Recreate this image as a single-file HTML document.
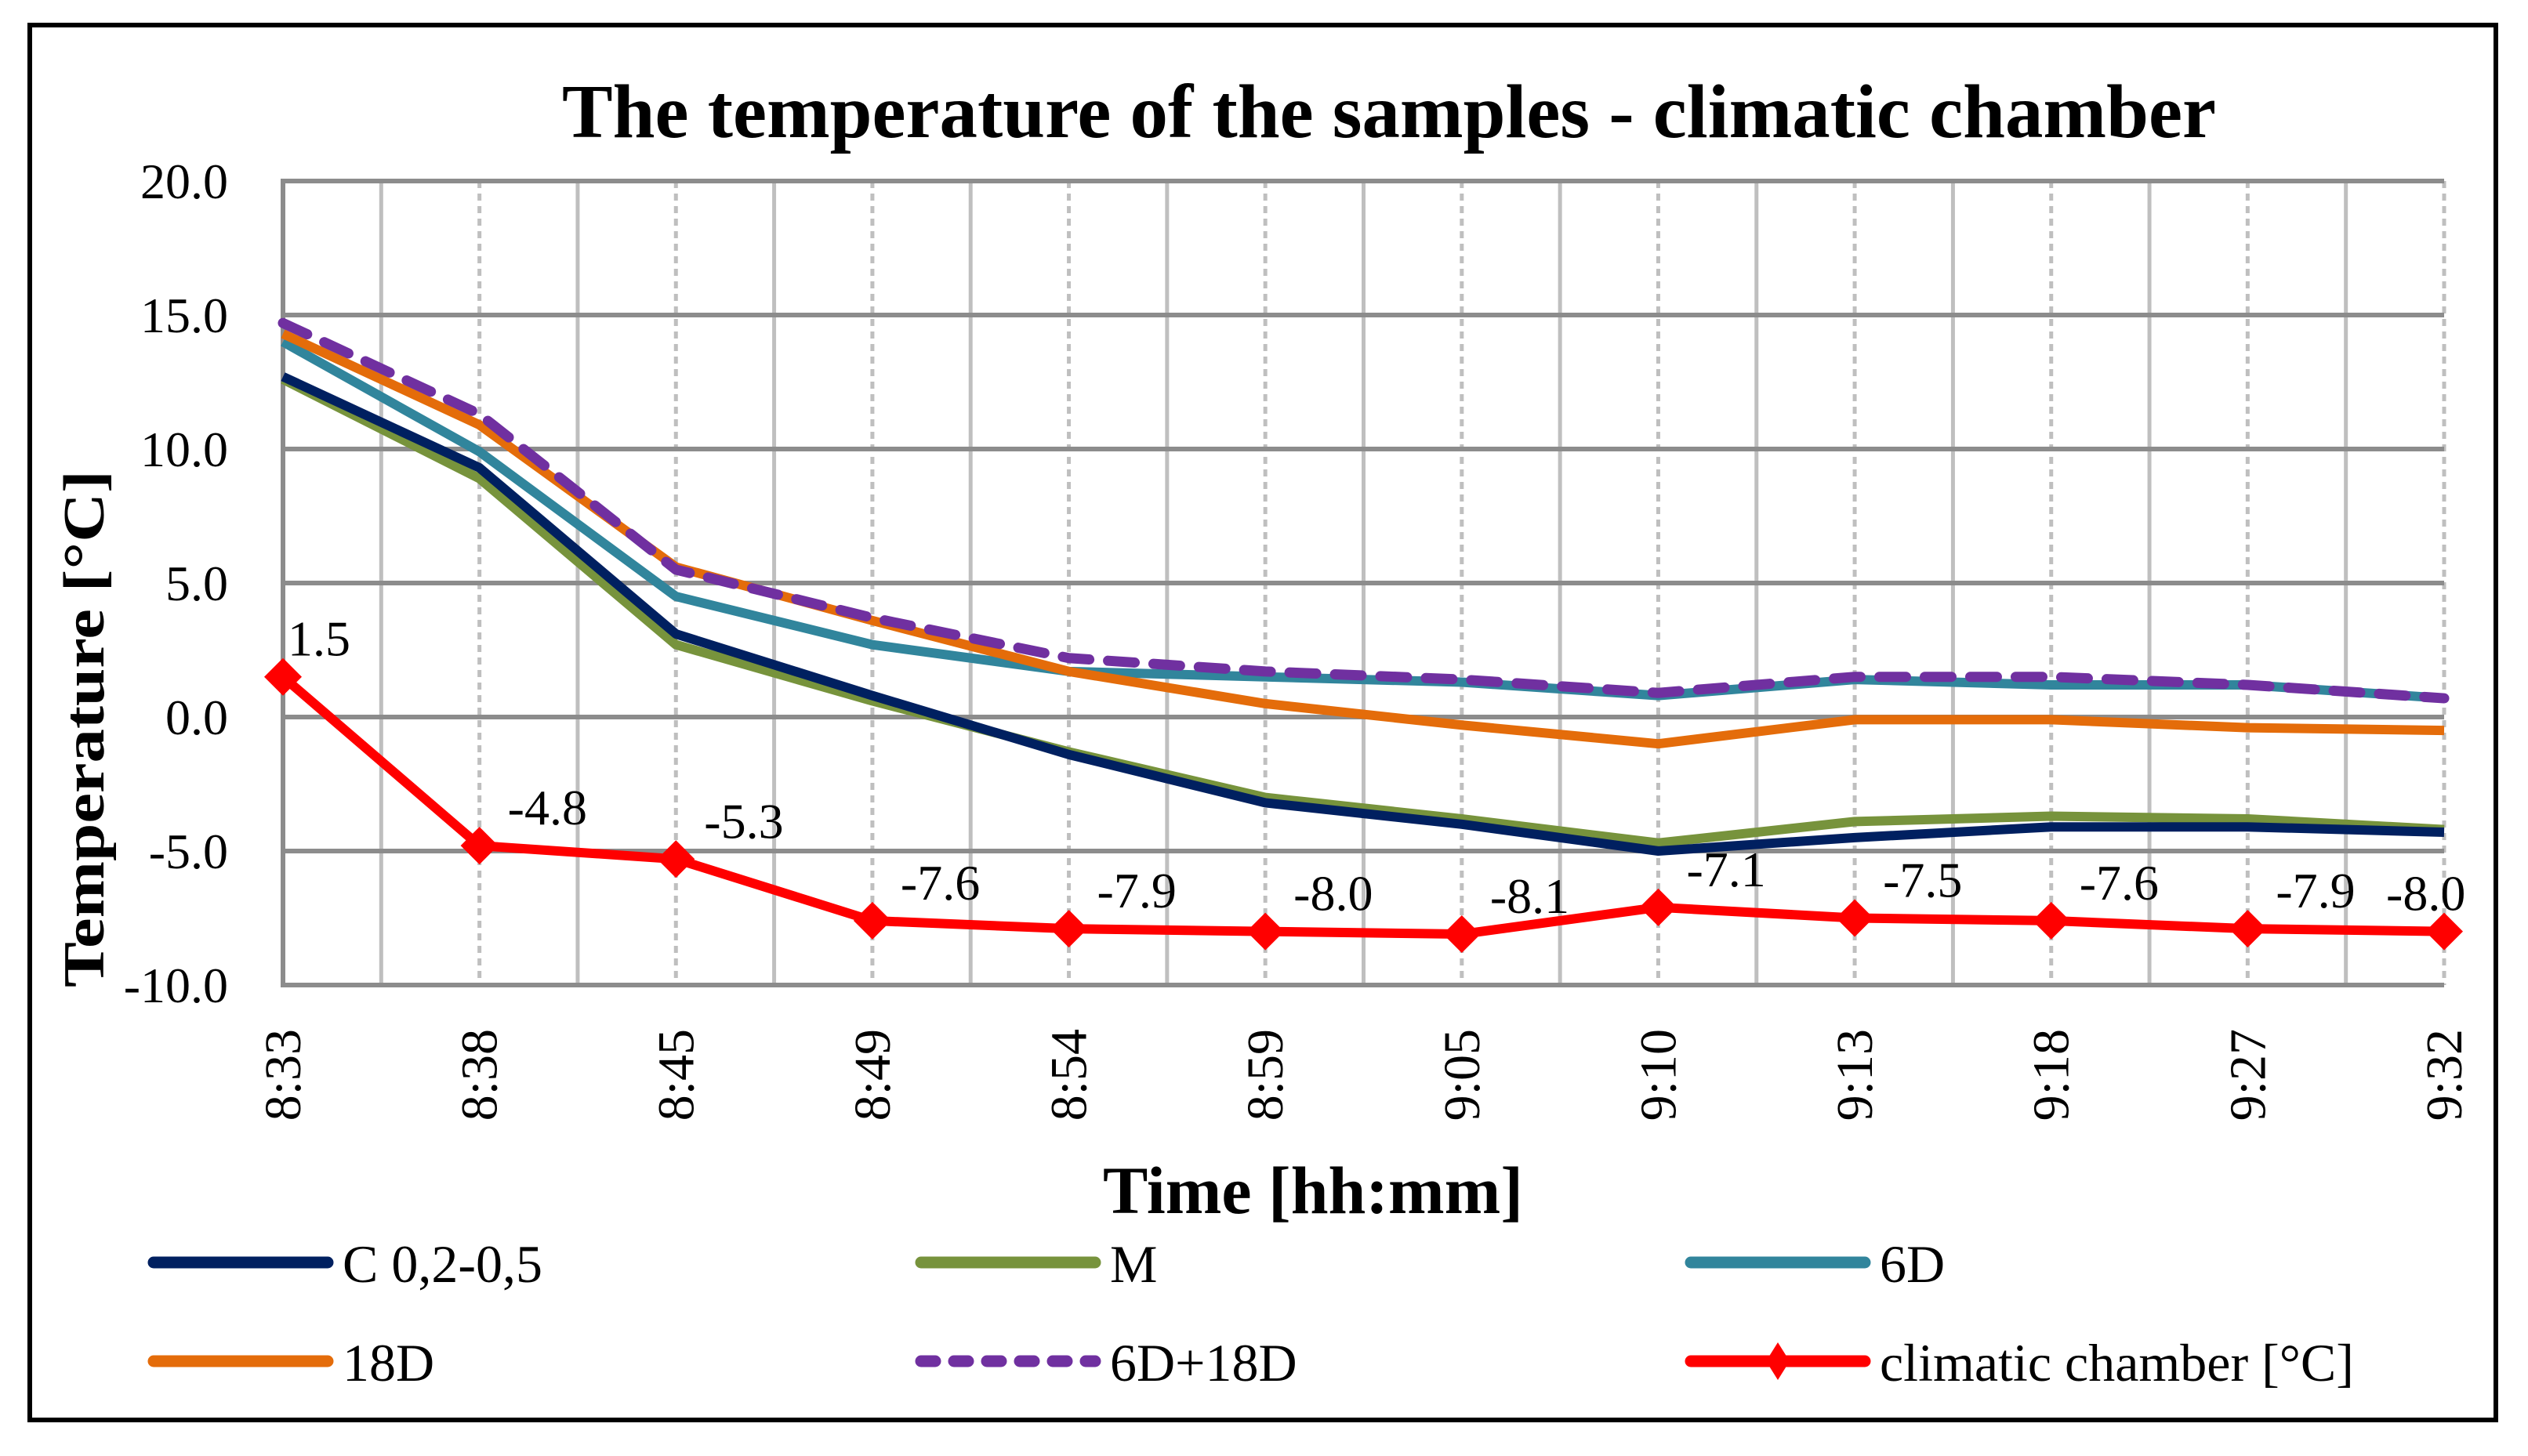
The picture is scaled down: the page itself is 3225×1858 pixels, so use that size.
<!DOCTYPE html>
<html><head><meta charset="utf-8"><style>
html,body{margin:0;padding:0;background:#fff;}
svg{display:block;font-family:"Liberation Serif",serif;}
</style></head><body>
<svg id="chart" width="3225" height="1858" viewBox="0 0 3225 1858" xmlns="http://www.w3.org/2000/svg">
<rect x="38" y="32" width="3146" height="1780" fill="#fff" stroke="#000" stroke-width="6"/>
<text x="1772" y="175" text-anchor="middle" font-weight="bold" font-size="98" textLength="2110" lengthAdjust="spacingAndGlyphs">The temperature of the samples - climatic chamber</text>
<g id="grid"></g>
<g id="series"></g>
<g id="labels"></g>
<text transform="translate(132,930) rotate(-90)" text-anchor="middle" font-weight="bold" font-size="74" textLength="660" lengthAdjust="spacingAndGlyphs">Temperature [°C]</text>
<text x="1675" y="1548" text-anchor="middle" font-weight="bold" font-size="86" textLength="536" lengthAdjust="spacingAndGlyphs">Time [hh:mm]</text>
<g id="legend"></g>
</svg>
<script>
const categories = ["8:33","8:38","8:45","8:49","8:54","8:59","9:05","9:10","9:13","9:18","9:27","9:32"];
const yTicks = [20,15,10,5,0,-5,-10];
const seriesNames = ["C 0,2-0,5","M","6D","18D","6D+18D","climatic chamber [°C]"];
const valsC = [12.7,9.3,3.1,0.8,-1.4,-3.2,-4.0,-5.0,-4.5,-4.1,-4.1,-4.3];
const valsM = [12.6,8.9,2.7,0.6,-1.3,-3.0,-3.8,-4.7,-3.9,-3.7,-3.8,-4.2];
const vals6D = [14.0,9.9,4.5,2.7,1.7,1.5,1.3,0.8,1.4,1.2,1.2,0.7];
const vals18D = [14.3,10.9,5.6,3.6,1.7,0.5,-0.3,-1.0,-0.1,-0.1,-0.4,-0.5];
const vals6D18D = [14.7,11.3,5.5,3.7,2.2,1.7,1.4,0.9,1.5,1.5,1.2,0.7];
const valsChamber = [1.5,-4.8,-5.3,-7.6,-7.9,-8.0,-8.1,-7.1,-7.5,-7.6,-7.9,-8.0];

const NS="http://www.w3.org/2000/svg";
const X0=361, X1=3118, Y0=1257, Y1=231, YMIN=-10, YMAX=20;
const xPos=i=>X0+(X1-X0)*i/(categories.length-1);
const yPos=v=>Y0-(v-YMIN)/(YMAX-YMIN)*(Y0-Y1);
function mk(tag,attrs,parent){const e=document.createElementNS(NS,tag);for(const k in attrs)e.setAttribute(k,attrs[k]);parent.appendChild(e);return e;}
const grid=document.getElementById('grid'), ser=document.getElementById('series'), lab=document.getElementById('labels'), leg=document.getElementById('legend');
const step=(X1-X0)/(categories.length-1);
for(let i=0;i<categories.length-1;i++){
  const l=mk('line',{x1:xPos(i)+step/2,x2:xPos(i)+step/2,y1:Y1,y2:Y0,stroke:'#bfbfbf','stroke-width':5},grid);
  
  
}
for(let i=1;i<categories.length;i++){
  const l=mk('line',{x1:xPos(i),x2:xPos(i),y1:Y1,y2:Y0,stroke:'#bfbfbf','stroke-width':5,'stroke-dasharray':'9 7'},grid);
  
  
}
yTicks.forEach(v=>{
  const l=mk('line',{x1:X0,x2:X1,y1:yPos(v),y2:yPos(v),stroke:'#8c8c8c','stroke-width':6},grid);
  
  
  const t=mk('text',{x:291,y:yPos(v)+22,'text-anchor':'end','font-size':64},grid);
  t.textContent=v.toFixed(1);
  
  
});
const ax=mk('line',{x1:X0,x2:X0,y1:Y1-3,y2:Y0+3,stroke:'#8c8c8c','stroke-width':6},grid);


categories.forEach((c,i)=>{
  const t=mk('text',{transform:`translate(${xPos(i)+22},1313) rotate(-90)`,'text-anchor':'end','font-size':66},grid);
  t.textContent=c;
  
  
});
const colors=["#002060","#77933c","#31859c","#e46c0a","#7030a0","#ff0000"];
const allVals=[valsC,valsM,vals6D,vals18D,vals6D18D,valsChamber];
const names=["series-c","series-m","series-6d","series-18d","series-6d-18d","series-climatic-chamber"];
[1,0,2,3,4,5].forEach(s=>{
  const pts=allVals[s].map((v,i)=>xPos(i)+','+yPos(v)).join(' ');
  const a={points:pts,fill:'none',stroke:colors[s],'stroke-width':12,'stroke-linejoin':'round'};
  if(s==4){a['stroke-dasharray']='34 24';a['stroke-linecap']='round';a['stroke-width']=13;}
  const p=mk('polyline',a,ser);
  
  
});
valsChamber.forEach((v,i)=>{
  const x=xPos(i),y=yPos(v);
  const d=mk('polygon',{points:`${x},${y-24} ${x+24},${y} ${x},${y+24} ${x-24},${y}`,fill:'#ff0000'},ser);
  
  
  let dx=36, dy=-27;
  if(i==0){dx=6;}
  if(i==categories.length-1){dx=-74;}
  const t=mk('text',{x:x+dx,y:y+dy,'font-size':64},lab);
  t.textContent=v.toFixed(1);
  
  
});
const legX=[196,1175,2157], legY=[1611,1737];
[0,1,2,3,4,5].forEach((s,k)=>{
  const x=legX[k%3], y=legY[Math.floor(k/3)];
  const g=mk('g',{},leg);
  
  
  const a={x1:x,x2:x+222,y1:y,y2:y,stroke:colors[s],'stroke-width':15,'stroke-linecap':'round'};
  if(s==4){a['stroke-dasharray']='18 24';}
  mk('line',a,g);
  if(s==5){mk('polygon',{points:`${x+111},${y-24} ${x+126},${y} ${x+111},${y+24} ${x+96},${y}`,fill:'#ff0000'},g);}
  const t=mk('text',{x:x+241,y:y+25,'font-size':68},g);
  t.textContent=seriesNames[s];
});
</script>
</body></html>
